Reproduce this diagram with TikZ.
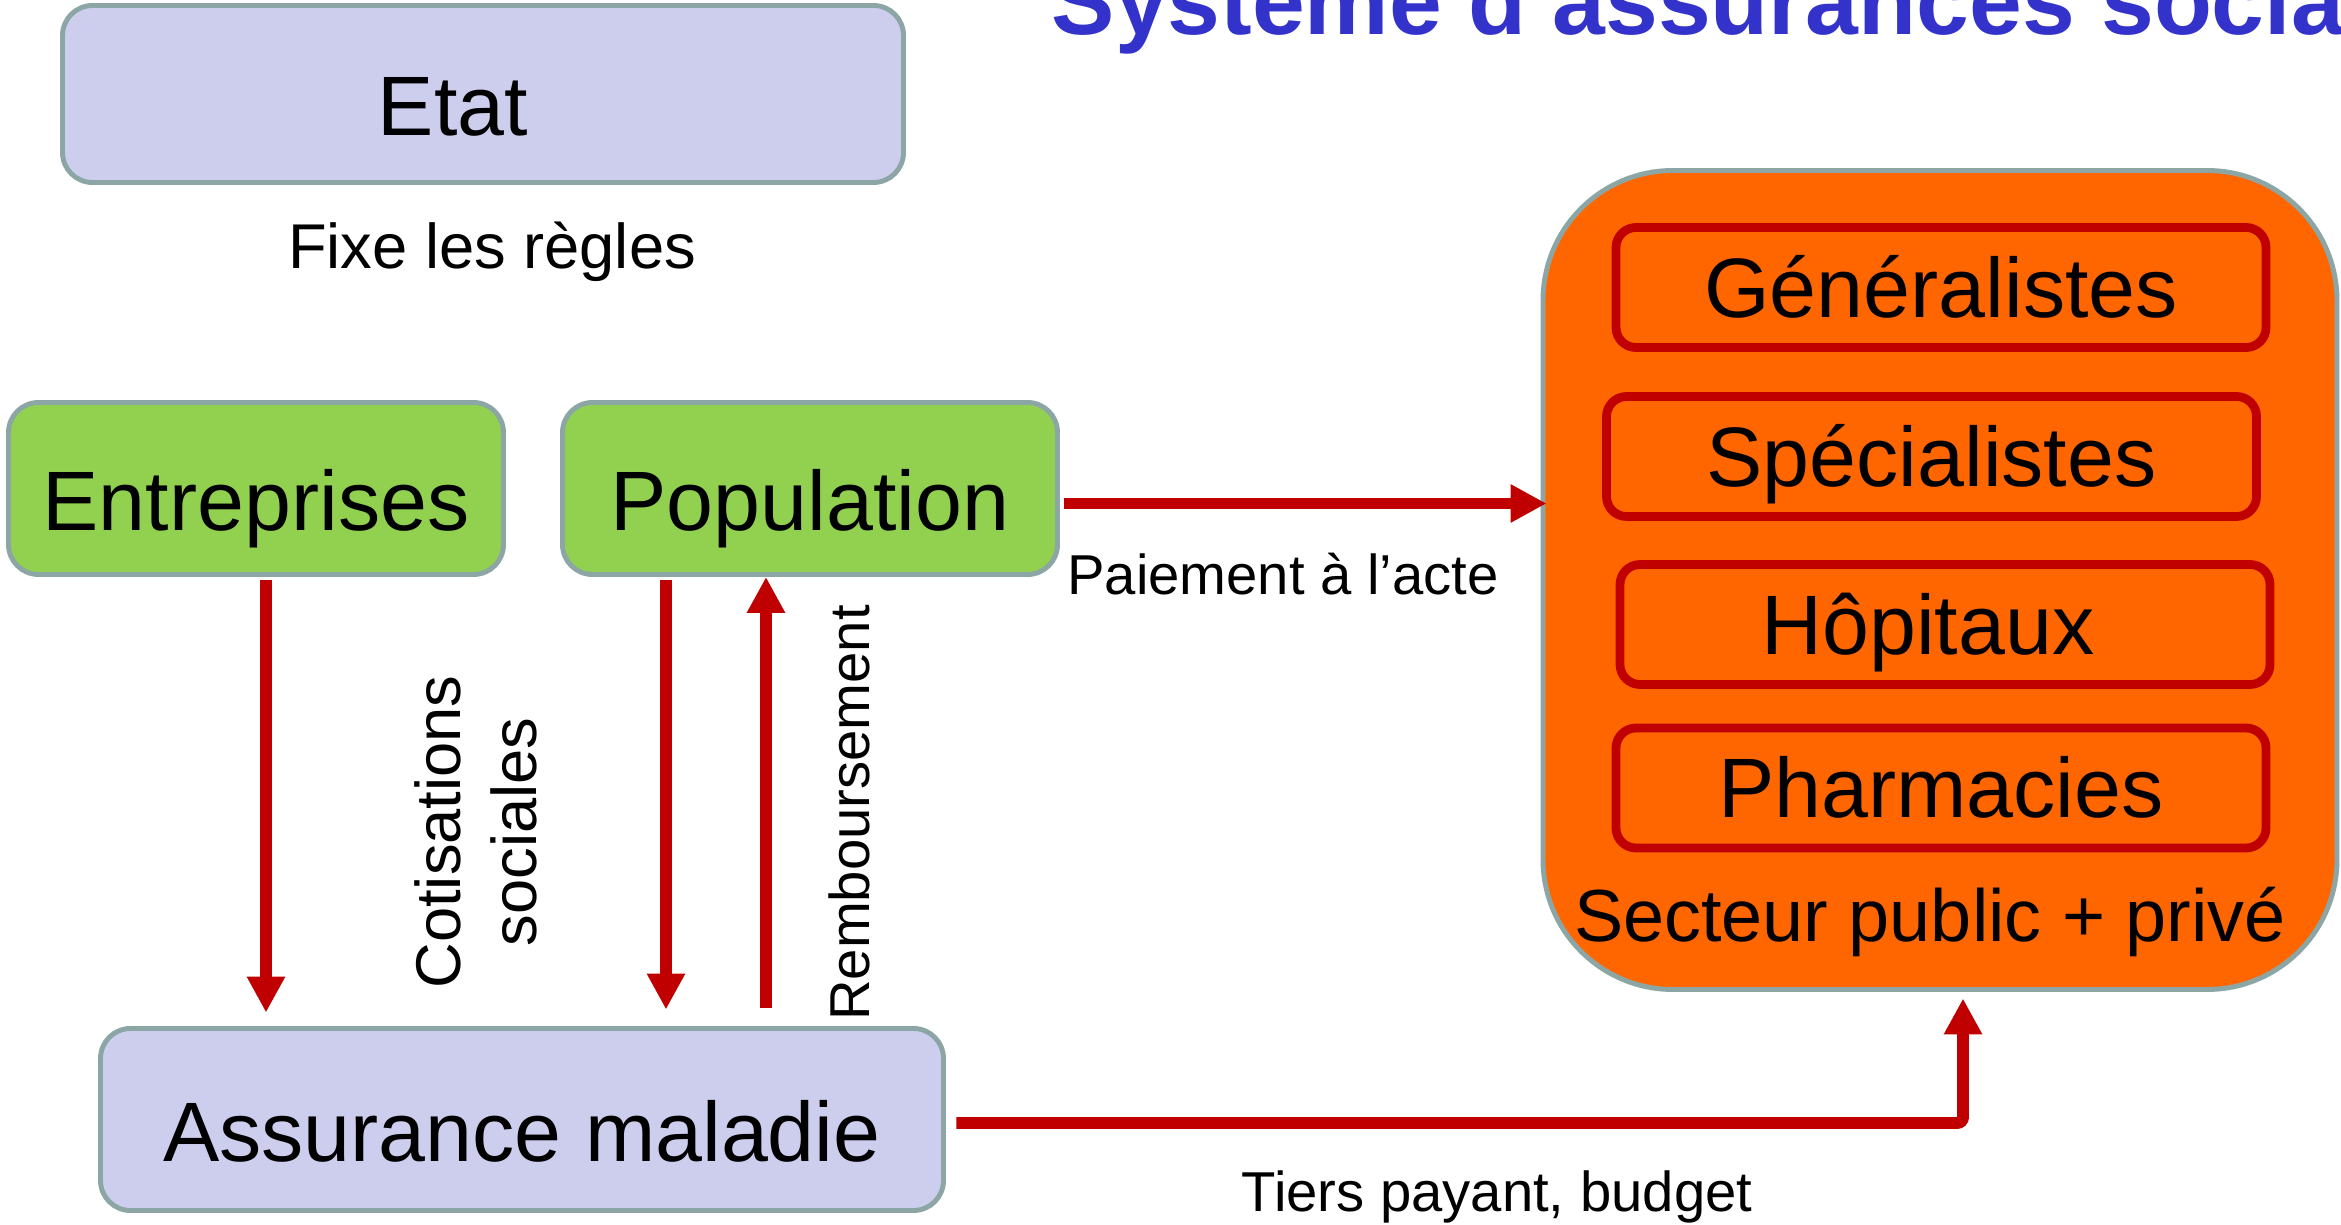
\documentclass[tikz,border=0pt]{standalone}
\usepackage{fontspec}
\setmainfont{Liberation Sans}
\usetikzlibrary{arrows.meta}
\definecolor{lavande}{RGB}{205,206,238}
\definecolor{vert}{RGB}{146,208,80}
\definecolor{gris}{RGB}{140,165,165}
\definecolor{rouge}{RGB}{192,0,0}
\definecolor{orangevif}{RGB}{255,102,0}
\definecolor{titre}{RGB}{51,51,204}
\begin{document}
\begin{tikzpicture}[
  bigtext/.style={font=\fontsize{24pt}{28pt}\selectfont,text height=0.84cm,text depth=0cm},
  acteur/.style={draw=gris,line width=1.4pt,rounded corners=0.3cm,inner sep=0pt,bigtext},
  bleu/.style={acteur,fill=lavande},
  vertbox/.style={acteur,fill=vert,minimum width=4.95cm,minimum height=1.72cm},
  soin/.style={draw=rouge,line width=2.5pt,fill=orangevif,rounded corners=0.2cm,inner sep=0pt,
    minimum width=6.5cm,minimum height=1.2cm,font=\fontsize{24pt}{28pt}\selectfont,text height=0.6cm,text depth=0cm},
  flux/.style={draw=rouge,line width=3.4pt,-{Triangle[length=3.6mm,width=3.6mm]}},
  petit/.style={font=\fontsize{16pt}{19pt}\selectfont,inner sep=0pt},
  moyen/.style={font=\fontsize{18pt}{21.6pt}\selectfont,inner sep=0pt}
]
\useasboundingbox (0,0) rectangle (23.41,-12.25);
\clip (0,0) rectangle (23.41,-12.25);
%title
\node[anchor=base west,inner sep=0pt,text=titre,font=\fontsize{27pt}{32pt}\selectfont\bfseries] (titre) at (10.51,-0.35) {Système d’assurances sociales};
%left side
\node[bleu,minimum width=8.41cm,minimum height=1.77cm] (etat) at (4.83,-0.94) {\hspace*{-0.6cm}Etat};
\node[vertbox] (ent) at (2.56,-4.885) {Entreprises};
\node[vertbox] (pop) at (8.10,-4.885) {Population};
\node[bleu,minimum width=8.43cm,minimum height=1.82cm] (assur) at (5.22,-11.195) {Assurance maladie};
%right side
\node[draw=gris,line width=1.4pt,fill=orangevif,rounded corners=1.3cm,minimum width=7.94cm,minimum height=8.19cm] (sect) at (19.40,-5.80) {};
\node[soin] (gen) at (19.41,-2.875) {Généralistes};
\node[soin] (spec) at (19.315,-4.565) {Spécialistes};
\node[soin] (hop) at (19.45,-6.245) {\hspace*{-0.34cm}Hôpitaux};
\node[soin] (pharm) at (19.41,-7.88) {Pharmacies};
\node[anchor=base,inner sep=0pt,font=\fontsize{21pt}{25pt}\selectfont] (secteur) at (19.30,-9.42) {Secteur public + privé};
%arrows
\draw[flux,shorten <=0.03cm,shorten >=0.135cm] ([xshift=0.1cm]ent.south) -- ([xshift=0.1cm]ent.south |- assur.north);
\draw[flux,shorten <=0.03cm,shorten >=0.165cm] ([xshift=-1.44cm]pop.south) -- ([xshift=-1.44cm]pop.south |- assur.north);
\draw[flux,shorten <=0.185cm] ([xshift=-0.44cm]pop.south |- assur.north) -- ([xshift=-0.44cm]pop.south);
\draw[flux,shorten <=0.045cm,shorten >=-0.06cm] ([yshift=-0.15cm]pop.east) -- ([yshift=-0.15cm]pop.east -| sect.west);
\draw[flux,rounded corners=0.06cm,shorten >=0.065cm] ([xshift=0.105cm,yshift=-0.035cm]assur.east) -| ([xshift=0.23cm]sect.south);
%labels
\node[moyen,anchor=base] (regles) at (4.92,-2.69) {Fixe les règles};
\node[moyen,rotate=90,align=center] (cotis) at (4.76,-8.32) {Cotisations\\sociales};
\node[petit,rotate=90,anchor=base] (remb) at (8.69,-8.13) {Remboursement};
\node[petit,anchor=base] (paiement) at (12.83,-5.945) {Paiement à l’acte};
\node[petit,anchor=base] (tiers) at (14.97,-12.11) {Tiers payant, budget};
\end{tikzpicture}
\end{document}
